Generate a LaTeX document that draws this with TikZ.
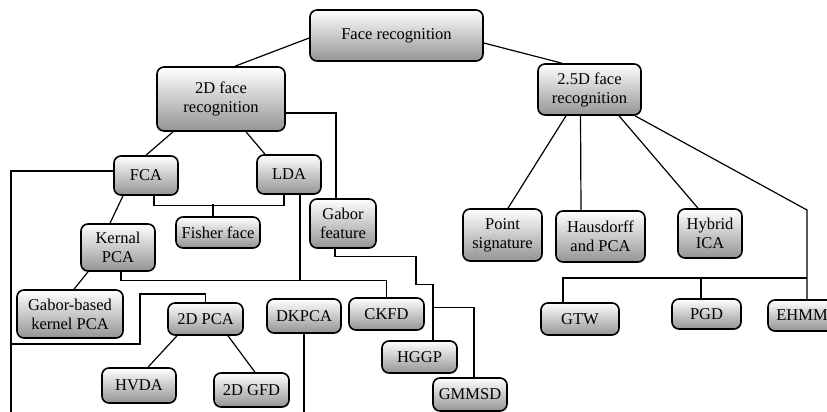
\documentclass[tikz,border=0pt]{standalone}
\usepackage{fontspec}
\setmainfont{Liberation Serif}
\begin{document}
\begin{tikzpicture}[x=1pt,y=-1pt,
  box/.style={draw=black, line width=1.6pt, rounded corners=7pt,
    top color=white, bottom color=black!42, inner sep=0pt, align=center,
    font=\fontsize{16.5}{19}\selectfont},
  link/.style={draw=black, line width=1.2pt}]
\useasboundingbox (0,0) rectangle (827,412);
\clip (0,0) rectangle (827,412);
\fill[white] (0,0) rectangle (827,412);
% nodes
\node[box, minimum width=173pt, minimum height=51pt] (fr) at (396.5,35.5) {Face recognition};
\node[box, minimum width=128pt, minimum height=64pt] (d2) at (221,99) {2D face\\recognition};
\node[box, minimum width=103pt, minimum height=51pt] (d25) at (589.5,89.5) {2.5D face\\recognition};
\node[box, minimum width=64pt, minimum height=39pt] (fca) at (146,175.5) {FCA};
\node[box, minimum width=64pt, minimum height=39pt] (lda) at (289,174.5) {LDA};
\node[box, minimum width=66pt, minimum height=49pt] (gabor) at (343,223.5) {Gabor\\feature};
\node[box, minimum width=84pt, minimum height=31pt] (fisher) at (218,232.5) {Fisher face};
\node[box, minimum width=74pt, minimum height=47pt] (kpca) at (118,247.5) {Kernal\\PCA};
\node[box, minimum width=106pt, minimum height=48pt] (gkpca) at (70,314) {Gabor-based\\kernel PCA};
\node[box, minimum width=75pt, minimum height=32pt] (pca2) at (205.5,319) {2D PCA};
\node[box, minimum width=74pt, minimum height=34pt] (dkpca) at (304,316) {DKPCA};
\node[box, minimum width=75pt, minimum height=32pt] (ckfd) at (386.5,314) {CKFD};
\node[box, minimum width=75pt, minimum height=32pt] (hggp) at (419.5,357) {HGGP};
\node[box, minimum width=74pt, minimum height=33pt] (gmmsd) at (470,394.5) {GMMSD};
\node[box, minimum width=74pt, minimum height=35pt] (hvda) at (139,385.5) {HVDA};
\node[box, minimum width=75pt, minimum height=34pt] (gfd) at (251.5,390) {2D GFD};
\node[box, minimum width=79pt, minimum height=52pt] (ps) at (502.5,235) {Point\\signature};
\node[box, minimum width=89pt, minimum height=51pt] (haus) at (600.5,236.5) {Hausdorff\\and PCA};
\node[box, minimum width=64pt, minimum height=49pt] (hyb) at (710,233.5) {Hybrid\\ICA};
\node[box, minimum width=78pt, minimum height=32pt] (gtw) at (580,319) {GTW};
\node[box, minimum width=69pt, minimum height=30pt] (pgd) at (706.5,314) {PGD};
\node[box, minimum width=68pt, minimum height=31pt] (ehmm) at (802,315.5) {EHMM};
\coordinate (lb) at (11,416);
\coordinate (lj) at (11,344);
\coordinate (ek) at (807,210);
% connectors
\draw[link] ([yshift=-2.5pt]fr.west) -- ([xshift=14pt]d2.north);
\draw[link] ([yshift=-7.5pt]fr.east) -- ([xshift=-27.5pt]d25.north);
\draw[link] ([xshift=-48pt]d2.south) -- (fca.north);
\draw[link] ([xshift=25pt]d2.south) -- ([xshift=-24pt]lda.north);
\draw[link] ([yshift=-14pt]d2.east) -| ([xshift=-7pt]gabor.north);
\draw[link] ([yshift=4.5pt]fca.west) -| (lb);
\draw[link] ([xshift=8pt]fca.south) -- ++(0,10) -| ([xshift=-5pt]lda.south);
\draw[link] ([xshift=-5pt]fisher.north) -- ++(0,-12);
\draw[link] ([xshift=11pt]lda.south) -- ++(0,86);
\draw[link] ([xshift=3pt]kpca.south) -- ++(0,9) -| (ckfd.north);
\draw[link] ([xshift=-23pt]fca.south) -- ([xshift=-8pt]kpca.north);
\draw[link] ([xshift=-30pt]kpca.south) -- ([xshift=4pt]gkpca.north);
\draw[link] (lj) -| ++(129,-50) -| (pca2.north);
\draw[link] ([xshift=-28.5pt]pca2.south) -- ([xshift=9pt]hvda.north);
\draw[link] ([xshift=22.5pt]pca2.south) -- ([xshift=3.5pt]gfd.north);
\draw[link] (dkpca.south) -- ++(0,85);
\draw[link] ([xshift=-8pt]gabor.south) |- ++(81,8) |- ++(17,28) -- ([xshift=13.5pt]hggp.north);
\draw[link] ([xshift=13.5pt]hggp.north) ++(0,-33) -| ([xshift=4pt]gmmsd.north);
\draw[link] ([xshift=-23.5pt]d25.south) -- ([xshift=5.5pt]ps.north);
\draw[link] ([xshift=-9pt]d25.south) -- ([xshift=-19.5pt]haus.north);
\draw[link] ([xshift=29.5pt]d25.south) -- ([xshift=-12pt]hyb.north);
\draw[link] ([xshift=45.5pt]d25.south) -- (ek) -- ([xshift=5pt]ehmm.north);
\draw[link] ([xshift=-17pt]gtw.north) |- (ek |- 0,278);
\draw[link] ([xshift=-5.5pt]pgd.north) -- ++(0,-21);
\end{tikzpicture}
\end{document}
